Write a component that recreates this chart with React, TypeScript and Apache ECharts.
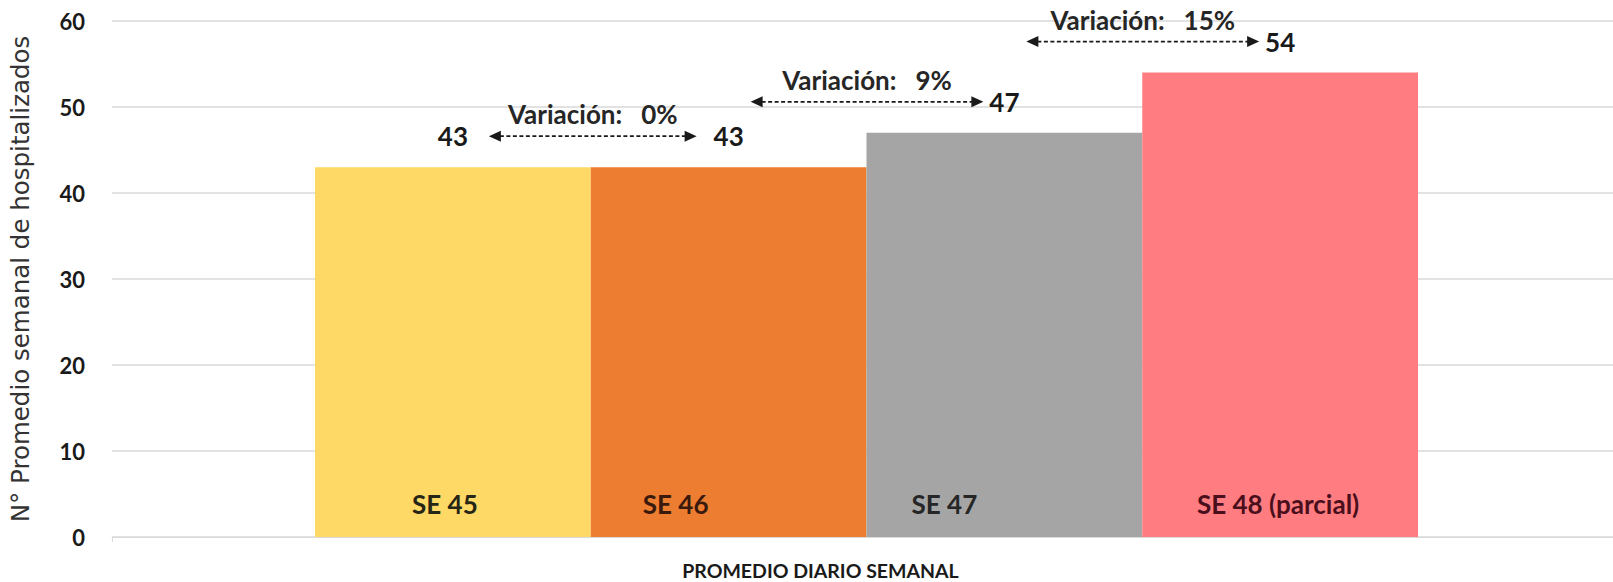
import React, { useEffect, useRef } from "react";
import * as echarts from "echarts";

// ---- data ----
const axisCategory = ["PROMEDIO DIARIO SEMANAL"];
const weeks = ["SE 45", "SE 46", "SE 47", "SE 48 (parcial)"];
const weeklyAverage = [43, 43, 47, 54];
const variationLabels = ["0%", "9%", "15%"];
const yAxisName = "N° Promedio semanal de hospitalizados";
const yMin = 0;
const yMax = 60;
const yInterval = 10;

// ---- styles ----
const barColors = ["#FFD966", "#ED7D31", "#A5A5A5", "#FF7C80"];
const weekLabelColors = ["#262616", "#3a1a0c", "#262626", "#4a0f1c"];
const weekLabelShift = [-8, -53, -60, -2];
const FONT = "Lato, 'Open Sans', sans-serif";

export default function App() {
  const ref = useRef<HTMLDivElement>(null);

  useEffect(() => {
    if (!ref.current) return;
    const chart = echarts.init(ref.current, null, { renderer: "svg" });

    const arrowData = weeklyAverage.slice(1).map((v, i) => [i, i + 1, v, i]);

    const option: any = {
      animation: false,
      backgroundColor: "#ffffff",
      grid: [
        { left: 106, right: 0, top: 21, bottom: 45, containLabel: false },
        { left: 315, width: 1103, top: 21, bottom: 45, containLabel: false },
      ],
      xAxis: [
        {
          type: "category",
          gridIndex: 0,
          data: axisCategory,
          axisLine: { show: true, lineStyle: { color: "#d9d9d9", width: 1 } },
          axisTick: { show: true, length: 5, lineStyle: { color: "#d9d9d9" } },
          axisLabel: {
            show: true,
            margin: 23,
            color: "#1a1a1a",
            fontFamily: FONT,
            fontWeight: "bold",
            fontSize: 19.5,
            padding: [0, 84, 0, 0],
          },
        },
        {
          type: "category",
          gridIndex: 1,
          data: weeks,
          show: false,
        },
      ],
      yAxis: [
        {
          type: "value",
          gridIndex: 0,
          min: yMin,
          max: yMax,
          interval: yInterval,
          name: yAxisName,
          nameLocation: "middle",
          nameGap: 79,
          nameTextStyle: {
            fontFamily: "'DejaVu Sans', sans-serif",
            fontSize: 24.5,
            color: "#333333",
          },
          axisLine: { show: false },
          axisTick: { show: false },
          axisLabel: {
            margin: 27,
            color: "#1a1a1a",
            fontFamily: FONT,
            fontWeight: "bold",
            fontSize: 22,
          },
          splitLine: { show: true, lineStyle: { color: "#d9d9d9", width: 1.5 } },
        },
        {
          type: "value",
          gridIndex: 1,
          min: yMin,
          max: yMax,
          interval: yInterval,
          show: false,
          splitLine: { show: false },
        },
      ],
      series: [
        {
          type: "bar",
          xAxisIndex: 1,
          yAxisIndex: 1,
          barCategoryGap: "0%",
          barGap: "-100%",
          data: weeklyAverage.map((v, i) => ({
            value: v,
            itemStyle: { color: barColors[i] },
            label: {
              show: true,
              position: "insideBottom",
              distance: 20,
              offset: [weekLabelShift[i], 0],
              formatter: weeks[i],
              color: weekLabelColors[i],
              fontFamily: FONT,
              fontWeight: "bold",
              fontSize: 26,
              lineHeight: 27,
            },
          })),
          silent: true,
        },
        {
          type: "bar",
          xAxisIndex: 1,
          yAxisIndex: 1,
          barCategoryGap: "0%",
          barGap: "-100%",
          data: weeklyAverage,
          itemStyle: { color: "rgba(0,0,0,0)" },
          label: {
            show: true,
            position: "top",
            distance: 18,
            color: "#1a1a1a",
            fontFamily: FONT,
            fontWeight: "bold",
            fontSize: 26,
            lineHeight: 26,
          },
          silent: true,
          z: 3,
        },
        {
          type: "custom",
          xAxisIndex: 1,
          yAxisIndex: 1,
          encode: { x: 0, y: 2 },
          data: arrowData,
          silent: true,
          z: 4,
          renderItem: (params: any, api: any) => {
            const from = api.value(0);
            const to = api.value(1);
            const v = api.value(2);
            const k = api.value(3);
            const p1 = api.coord([from, v]);
            const p2 = api.coord([to, v]);
            const same = weeklyAverage[from] === weeklyAverage[to];
            const y = p1[1] - 31;
            const x1 = p1[0] + (same ? 36 : 22);
            const x2 = p2[0] - (same ? 32 : 21);
            const head = 12;
            const half = 5.5;
            return {
              type: "group",
              children: [
                {
                  type: "line",
                  shape: { x1: x1 + head - 1, y1: y, x2: x2 - head + 1, y2: y },
                  style: { stroke: "#1a1a1a", lineWidth: 1.8, lineDash: [4, 2.5] },
                },
                {
                  type: "polygon",
                  shape: { points: [[x1, y], [x1 + head, y - half], [x1 + head, y + half]] },
                  style: { fill: "#1a1a1a" },
                },
                {
                  type: "polygon",
                  shape: { points: [[x2, y], [x2 - head, y - half], [x2 - head, y + half]] },
                  style: { fill: "#1a1a1a" },
                },
                {
                  type: "text",
                  x: (x1 + x2) / 2,
                  y: y - 22,
                  style: {
                    text: "Variación:   " + variationLabels[k],
                    fill: "#262626",
                    fontFamily: FONT,
                    fontSize: 26,
                    fontWeight: "bold",
                    align: "center",
                    verticalAlign: "middle",
                  },
                },
              ],
            };
          },
        },
      ],
    };

    chart.setOption(option);
    return () => chart.dispose();
  }, []);

  return (
    <div
      ref={ref}
      style={{ position: "fixed", left: 0, top: 0, width: 1613, height: 582, background: "#fff" }}
    />
  );
}
